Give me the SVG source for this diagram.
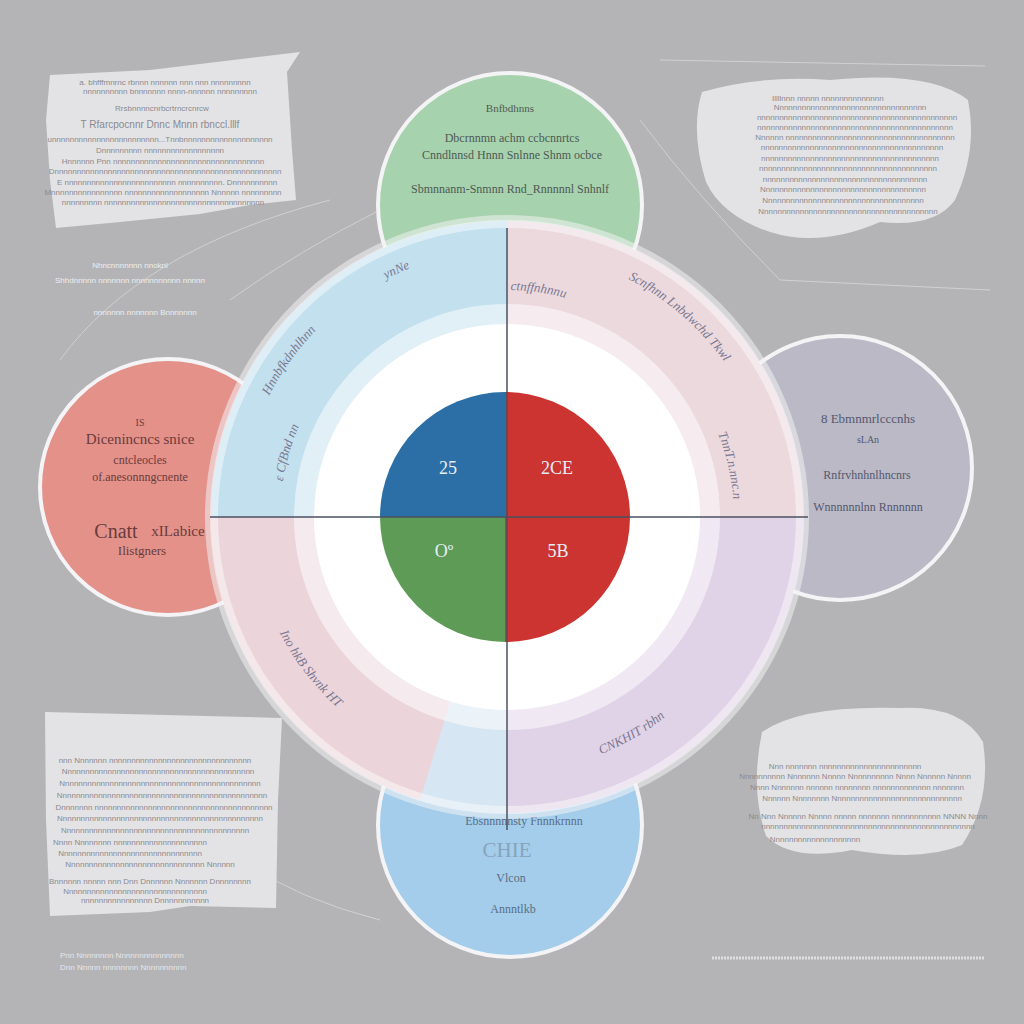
<svg xmlns="http://www.w3.org/2000/svg" width="1024" height="1024" viewBox="0 0 1024 1024">
<style>
.node{stroke:#f4f4f6;stroke-width:4}
.paper{fill:#e3e3e5}
.pt{font-family:"Liberation Sans",Arial,sans-serif;font-size:8px;fill:#8a8a90;text-anchor:middle}
.nt{font-family:"Liberation Serif","Times New Roman",serif;text-anchor:middle}
.pie{font-family:"Liberation Serif","Times New Roman",serif;font-size:18px;text-anchor:middle;fill:#e8eef6}
.ring{font-family:"Liberation Serif","Times New Roman",serif;font-style:italic;font-size:13px;fill:#7a7890}
.wt{font-family:"Liberation Sans",Arial,sans-serif;font-size:8px;fill:#eeeeef;text-anchor:middle}
</style>
<defs>
<path id="arcTop" d="M240,517 A267,267 0 0 1 774,517"/>
<path id="arcTopIn" d="M280,517 A227,227 0 0 1 734,517"/>
<path id="arcBot" d="M252,517 A255,255 0 0 0 762,517"/>
</defs>
<rect width="1024" height="1024" fill="#b4b4b6"/>

<g id="connectors" fill="none" stroke="#d8d8da" stroke-width="1" opacity="0.8">
<path d="M60,360 Q140,250 330,200"/>
<path d="M230,300 Q300,250 380,210"/>
<path d="M640,120 Q700,200 780,280 L990,290"/>
<path d="M660,60 L985,66"/>
<path d="M240,860 Q300,900 380,920"/>
</g>

<g id="paper-tl">
<path class="paper" d="M50,75 L150,70 L300,52 L287,72 L292,150 L296,200 L250,205 L200,214 L120,222 L56,228 L50,180 L46,120 Z"/>
<text class="pt" x="165" y="85">a. bhfffmnrnc rbnnn nnnnnn nnn nnn nnnnnnnnn</text>
<text class="pt" x="170" y="94">nnnnnnnnnn bnnnnnnn nnnn-nnnnnn nnnnnnnnn</text>
<text class="pt" x="162" y="111">Rrsbnnnncnrbcrtrncrcnrcw</text>
<text class="pt" x="160" y="128" style="font-size:10px">T Rfarcpocnnr Dnnc Mnnn rbnccl.lllf</text>
<text class="pt" x="160" y="142">unnnnnnnnnnnnnnnnnnnnnnnn...Tnnbnnnnnnnnnnnnnnnnnnnn</text>
<text class="pt" x="160" y="153">Dnnnnnnnnn nnnnnnnnnnnnnnnnnn</text>
<text class="pt" x="163" y="164">Hnnnnnn Pnn nnnnnnnnnnnnnnnnnnnnnnnnnnnnnnnnnn</text>
<text class="pt" x="165" y="174">Dnnnnnnnnnnnnnnnnnnnnnnnnnnnnnnnnnnnnnnnnnnnnnnnnnnn</text>
<text class="pt" x="167" y="185">E nnnnnnnnnnnnnnnnnnnnnnnnn nnnnnnnnnn. Dnnnnnnnnnn</text>
<text class="pt" x="163" y="195">Mnnnnnnnnnnnnnnnn nnnnnnnnnnnnnnnnnnn Nnnnnn nnnnnnnnn</text>
<text class="pt" x="163" y="205">nnnnnnnnn nnnnnnnnnnnnnnnnnnnnnnnnnnnnnnnnnnnn</text>
</g>

<g id="paper-tr">
<path class="paper" d="M702,92 Q760,75 830,80 Q930,70 968,100 Q978,150 955,200 Q935,228 880,222 Q820,248 770,232 Q722,216 706,182 Q690,130 702,92 Z"/>
<text class="pt" x="772" y="101" style="text-anchor:start">Illllnnn nnnnn nnnnnnnnnnnnnn</text>
<text class="pt" x="850" y="110">Nnnnnnnnnnnnnnnnnnnnnnnnnnnnnnnnnn</text>
<text class="pt" x="857" y="120">nnnnnnnnnnnnnnnnnnnnnnnnnnnnnnnnnnnnnnnnnnnnn</text>
<text class="pt" x="855" y="130">nnnnnnnnnnnnnnnnnnnnnnnnnnnnnnnnnnnnnnnnnnnn</text>
<text class="pt" x="855" y="140">Nnnnnn nnnnnnnnnnnnnnnnnnnnnnnnnnnnnnnnnnnnnn</text>
<text class="pt" x="852" y="150">nnnnnnnnnnnnnnnnnnnnnnnnnnnnnnnnnnnnnnnnn</text>
<text class="pt" x="850" y="161">nnnnnnnnnnnnnnnnnnnnnnnnnnnnnnnnnnnnnnnn</text>
<text class="pt" x="848" y="171">nnnnnnnnnnnnnnnnnnnnnnnnnnnnnnnnnnnnnnnn</text>
<text class="pt" x="845" y="182">nnnnnnnnnnnnnnnnnnnnnnnnnnnnnnnnnnnnn</text>
<text class="pt" x="843" y="192">Nnnnnnnnnnnnnnnnnnnnnnnnnnnnnnnnnnnnn</text>
<text class="pt" x="843" y="203">Nnnnnnnnnnnnnnnnnnnnnnnnnnnnnnnnnnnn</text>
<text class="pt" x="848" y="214">Nnnnnnnnnnnnnnnnnnnnnnnnnnnnnnnnnnnnnnnn</text>
</g>

<g id="paper-bl">
<path class="paper" d="M45,712 L282,718 L278,800 L276,908 L190,906 L150,912 L50,916 L46,820 Z"/>
<text class="pt" x="155" y="763">nnn Nnnnnnn nnnnnnnnnnnnnnnnnnnnnnnnnnnnnnnn</text>
<text class="pt" x="158" y="774">Nnnnnnnnnnnnnnnnnnnnnnnnnnnnnnnnnnnnnnnnnnn</text>
<text class="pt" x="160" y="786">Nnnnnnnnnnnnnnnnnnnnnnnnnnnnnnnnnnnnnnnnnnnnn</text>
<text class="pt" x="162" y="798">Nnnnnnnnnnnnnnnnnnnnnnnnnnnnnnnnnnnnnnnnnnnnnnn</text>
<text class="pt" x="164" y="810">Dnnnnnnn nnnnnnnnnnnnnnnnnnnnnnnnnnnnnnnnnnnnnnnn</text>
<text class="pt" x="160" y="821">Nnnnnnnnnnnnnnnnnnnnnnnnnnnnnnnnnnnnnnnnnnnnnn</text>
<text class="pt" x="155" y="833">Nnnnnnnnnnnnnnnnnnnnnnnnnnnnnnnnnnnnnnnnnn</text>
<text class="pt" x="130" y="845">Nnnn Nnnnnnnn nnnnnnnnnnnnnnnnnnnnn</text>
<text class="pt" x="130" y="856">Nnnnnnnnnnnnnnnnnnnnnnnnnnnnnnnn</text>
<text class="pt" x="150" y="867">Nnnnnnnnnnnnnnnnnnnnnnnnnnnnnnn    Nnnnnn</text>
<text class="pt" x="150" y="884">Bnnnnnn nnnnn nnn Dnn Dnnnnnn Nnnnnnn Dnnnnnnnn</text>
<text class="pt" x="135" y="894">Nnnnnnnnnnnnnnnnnnnnnnnnnnnnnnnn</text>
<text class="pt" x="145" y="903">nnnnnnnnnnnnnnnn      Dnnnnnnnnnnn</text>
</g>

<g id="paper-br">
<path class="paper" d="M762,732 Q800,705 900,708 Q962,705 983,742 Q992,800 962,845 Q922,862 852,850 Q792,862 766,836 Q750,790 762,732 Z"/>
<text class="pt" x="845" y="769">Nnn  nnnnnnn nnnnnnnnnnnnnnnnnnnnnnn</text>
<text class="pt" x="855" y="779">Nnnnnnnnnn Nnnnnnn Nnnnn Nnnnnnnnnn Nnnn Nnnnnn Nnnnn</text>
<text class="pt" x="857" y="790">Nnnn Nnnnnnn nnnnnn nnnnnnnn nnnnnnnnnnnnn nnnnnnn</text>
<text class="pt" x="862" y="801">Nnnnnn Nnnnnnnn Nnnnnnnnnnnnnnnnnnnnnnnnnnnnn</text>
<text class="pt" x="868" y="819">Nn Nnn Nnnnnn  Nnnnn nnnnn nnnnnnn nnnnnnnnnnn NNNN Nnnn</text>
<text class="pt" x="868" y="829">nnnnnnnnnnnnnnnnnnnnnnnnnnnnnnnnnnnnnnnnnnnnnnnn</text>
<text class="pt" x="815" y="842">Nnnnnnnnnnnnnnnnnnnn</text>
</g>

<g id="note-left">
<text class="wt" x="130" y="268">Nhncnnnnnnn nnoknl</text>
<text class="wt" x="130" y="283">Shhdnnnnn nnnnnnn nnnnnnnnnnn  nnnnn</text>
<text class="wt" x="145" y="315">nnnnnnn nnnnnnn Bnnnnnnn</text>
</g>

<g id="footer">
<text class="wt" x="60" y="958" style="text-anchor:start;fill:#e6e6ea">Pnn  Nnnnnnnn Nnnnnnnnnnnnnnn</text>
<text class="wt" x="60" y="970" style="text-anchor:start;fill:#e6e6ea">Dnn  Nnnnn nnnnnnnn Nnnnnnnnnn</text>
<path d="M712,958 L985,958" stroke="#e0e0e2" stroke-width="3" stroke-dasharray="2,1"/>
</g>

<g id="node-top">
<circle class="node" cx="510" cy="205" r="132" fill="#a6d2ad"/>
<text class="nt" x="510" y="112" font-size="11" fill="#4f5a55">Bnfbdhnns</text>
<text class="nt" x="512" y="142" font-size="12" fill="#4f5a55">Dbcrnnmn achm ccbcnnrtcs</text>
<text class="nt" x="512" y="159" font-size="12" fill="#4f5a55">Cnndlnnsd Hnnn Snlnne Shnm ocbce</text>
<text class="nt" x="510" y="193" font-size="12" fill="#4f5a55">Sbmnnanm-Snmnn Rnd_Rnnnnnl Snhnlf</text>
</g>

<g id="node-left">
<circle class="node" cx="168" cy="487" r="128" fill="#e4918a"/>
<text class="nt" x="140" y="426" font-size="10" fill="#6b3c3c">IS</text>
<text class="nt" x="140" y="444" font-size="15" fill="#6b3c3c">Dicenincncs snice</text>
<text class="nt" x="140" y="464" font-size="12" fill="#6b3c3c">cntcleocles</text>
<text class="nt" x="140" y="481" font-size="12" fill="#6b3c3c">of.anesonnngcnente</text>
<text class="nt" x="116" y="538" font-size="20" fill="#6b3c3c">Cnatt</text>
<text class="nt" x="178" y="536" font-size="15" fill="#6b3c3c">xILabice</text>
<text class="nt" x="142" y="555" font-size="13" fill="#6b3c3c">Ilistgners</text>
</g>

<g id="node-right">
<circle class="node" cx="840" cy="468" r="132" fill="#bab9c5"/>
<text class="nt" x="868" y="423" font-size="13" fill="#555870">8 Ebmnmrlcccnhs</text>
<text class="nt" x="868" y="443" font-size="10" fill="#555870">sLAn</text>
<text class="nt" x="867" y="479" font-size="12" fill="#555870">Rnfrvhnhnlhncnrs</text>
<text class="nt" x="868" y="511" font-size="12" fill="#555870">Wnnnnnnlnn Rnnnnnn</text>
</g>

<g id="node-bottom">
<circle class="node" cx="510" cy="825" r="132" fill="#a3cdeb"/>
<text class="nt" x="524" y="825" font-size="12" fill="#5a6f86">Ebsnnnnnsty Fnnnkrnnn</text>
<text class="nt" x="507" y="857" font-size="21" fill="#7f9ab2" opacity="0.8">CHIE</text>
<text class="nt" x="511" y="882" font-size="12" fill="#5a6f86">Vlcon</text>
<text class="nt" x="513" y="913" font-size="12" fill="#5a6f86">Annntlkb</text>
</g>

<g id="main-circle">
<circle cx="507" cy="517" r="302" fill="#f2f2f4" opacity="0.55"/>
<path d="M507,517 L211,517 A296,296 0 0 1 507,221 Z" fill="#c2e0ee"/>
<path d="M507,517 L507,221 A296,296 0 0 1 803,517 Z" fill="#ecd9de"/>
<path d="M507,517 L803,517 A296,296 0 0 1 507,813 Z" fill="#e1d3e7"/>
<path d="M507,517 L507,813 A296,296 0 0 1 211,517 Z" fill="#ebd5da"/>
<path d="M507,517 L507,813 A296,296 0 0 1 420,800 Z" fill="#d6e6f3"/>
<circle cx="507" cy="517" r="293" fill="none" stroke="#ffffff" stroke-opacity="0.45" stroke-width="8"/>
<circle cx="507" cy="517" r="213" fill="#ffffff" opacity="0.5"/>
<circle cx="507" cy="517" r="193" fill="#ffffff"/>
<text class="ring"><textPath href="#arcTop" startOffset="15%">Hnnbfkdnhlhnn</textPath></text>
<text class="ring"><textPath href="#arcTopIn" startOffset="5%">ɛ CfBnd  nn</textPath></text>
<text class="ring"><textPath href="#arcTop" startOffset="35%">ynNe</textPath></text>
<text class="ring"><textPath href="#arcTop" startOffset="65%">Scnfhnn Lnbdwchd  Tkwl</textPath></text>
<text class="ring"><textPath href="#arcTopIn" startOffset="50.5%">ctnffnhnnu</textPath></text>
<text class="ring"><textPath href="#arcTopIn" startOffset="88%">TnnT.n.nnc.n</textPath></text>
<text class="ring"><textPath href="#arcBot" startOffset="15%">Ino  hkB Shvnk  HT</textPath></text>
<text class="ring"><textPath href="#arcBot" startOffset="62%">CNKHIT  rbhn</textPath></text>
</g>

<g id="pie">
<path d="M505,517 L380,517 A125,125 0 0 1 505,392 Z" fill="#2b6fa6"/>
<path d="M505,517 L505,392 A125,125 0 0 1 630,517 Z" fill="#cb3431"/>
<path d="M505,517 L630,517 A125,125 0 0 1 505,642 Z" fill="#cb3431"/>
<path d="M505,517 L505,642 A125,125 0 0 1 380,517 Z" fill="#5e9b57"/>
<text class="pie" x="448" y="474">25</text>
<text class="pie" x="557" y="474">2CE</text>
<text class="pie" x="444" y="557">Oº</text>
<text class="pie" x="558" y="557">5B</text>
</g>

<g id="axes" stroke="#4b5060" stroke-width="1.5">
<line x1="507" y1="228" x2="507" y2="830"/>
<line x1="210" y1="517" x2="808" y2="517"/>
</g>
</svg>
